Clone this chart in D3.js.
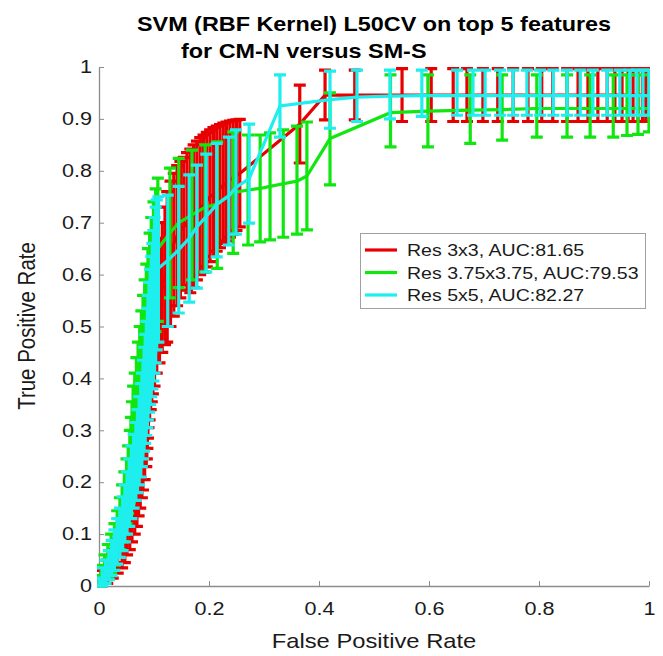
<!DOCTYPE html>
<html lang="en">
<head>
  <meta charset="UTF-8">
  <title>SVM ROC curves</title>
  <script src="https://d3js.org/d3.v7.min.js"></script>
  <style>
    body {
      margin: 0;
      background: #ffffff;
    }
    svg {
      display: block;
      font-family: "Liberation Sans", Arial, Helvetica, sans-serif;
    }
  </style>
</head>
<body>
  <svg width="663" height="656"></svg>

  <script>
    // ---- data ----
    const xTicks = [0, 0.2, 0.4, 0.6, 0.8, 1];
    const yTicks = [0, 0.1, 0.2, 0.3, 0.4, 0.5, 0.6, 0.7, 0.8, 0.9, 1];
    const seriesNames = ["Res 3x3, AUC:81.65", "Res 3.75x3.75, AUC:79.53", "Res 5x5, AUC:82.27"];

    // Res 3x3
    const redX = [0, 0.005, 0.015, 0.025, 0.034, 0.042, 0.047, 0.051, 0.056, 0.06, 0.065, 0.069, 0.072, 0.075, 0.078, 0.08, 0.083, 0.086, 0.087, 0.088, 0.089, 0.09, 0.092, 0.094, 0.096, 0.098, 0.101, 0.105, 0.11, 0.115, 0.12, 0.124,
      0.13, 0.136, 0.142, 0.148, 0.154, 0.16, 0.166, 0.172, 0.178, 0.184, 0.19, 0.196, 0.202, 0.208, 0.214, 0.22, 0.226, 0.232, 0.238, 0.244, 0.25, 0.256,
      0.365, 0.411, 0.465, 0.551, 0.604, 0.644, 0.669, 0.698, 0.725, 0.753, 0.78, 0.805, 0.825, 0.851, 0.871, 0.889, 0.907, 0.924, 0.938, 0.951, 0.962, 0.971, 0.98, 0.988, 0.994, 1];
    const redY = [0, 0.01, 0.025, 0.04, 0.055, 0.07, 0.085, 0.1, 0.115, 0.13, 0.15, 0.17, 0.19, 0.21, 0.23, 0.25, 0.275, 0.3, 0.32, 0.345, 0.37, 0.39, 0.41, 0.43, 0.45, 0.47, 0.49, 0.52, 0.55, 0.575, 0.595, 0.61,
      0.64, 0.66, 0.675, 0.685, 0.692, 0.7, 0.705, 0.712, 0.72, 0.728, 0.735, 0.742, 0.75, 0.755, 0.76, 0.766, 0.772, 0.777, 0.782, 0.787, 0.791, 0.795,
      0.89, 0.946, 0.946, 0.946, 0.946, 0.946, 0.946, 0.946, 0.946, 0.946, 0.946, 0.946, 0.946, 0.946, 0.946, 0.946, 0.946, 0.946, 0.946, 0.946, 0.946, 0.946, 0.946, 0.946, 0.946, 0.946];
    const redLo = [0, 0, 0.005, 0.015, 0.025, 0.035, 0.045, 0.06, 0.07, 0.085, 0.1, 0.115, 0.135, 0.15, 0.17, 0.185, 0.205, 0.23, 0.245, 0.265, 0.285, 0.305, 0.32, 0.34, 0.355, 0.37, 0.385, 0.41, 0.43, 0.45, 0.465, 0.47,
      0.5, 0.52, 0.54, 0.555, 0.58, 0.57, 0.565, 0.575, 0.59, 0.6, 0.605, 0.615, 0.625, 0.635, 0.645, 0.652, 0.66, 0.665, 0.672, 0.678, 0.685, 0.692,
      0.815, 0.898, 0.898, 0.895, 0.895, 0.895, 0.895, 0.895, 0.895, 0.895, 0.895, 0.895, 0.895, 0.895, 0.895, 0.895, 0.895, 0.895, 0.895, 0.895, 0.895, 0.895, 0.895, 0.895, 0.895, 0.895];
    const redHi = [0.01, 0.03, 0.05, 0.07, 0.09, 0.11, 0.13, 0.145, 0.165, 0.18, 0.205, 0.23, 0.25, 0.275, 0.295, 0.32, 0.345, 0.375, 0.4, 0.425, 0.455, 0.475, 0.5, 0.52, 0.545, 0.57, 0.595, 0.63, 0.67, 0.7, 0.73, 0.76,
      0.78, 0.795, 0.81, 0.818, 0.826, 0.835, 0.842, 0.85, 0.857, 0.864, 0.869, 0.874, 0.879, 0.883, 0.886, 0.889, 0.892, 0.894, 0.896, 0.897, 0.898, 0.899,
      0.965, 0.994, 0.994, 0.997, 0.997, 0.997, 0.997, 0.997, 0.997, 0.997, 0.997, 0.997, 0.997, 0.997, 0.997, 0.997, 0.997, 0.997, 0.997, 0.997, 0.997, 0.997, 0.997, 0.997, 0.997, 0.997];

    // Res 3.75x3.75
    const greenX = [0, 0.004, 0.01, 0.016, 0.022, 0.028, 0.033, 0.038, 0.042, 0.046, 0.05, 0.053, 0.056, 0.058, 0.06, 0.062, 0.065, 0.068, 0.071, 0.074, 0.077, 0.08, 0.083, 0.086, 0.089, 0.092, 0.095, 0.099, 0.103, 0.107,
      0.129, 0.145, 0.169, 0.193, 0.215, 0.244, 0.271, 0.293, 0.311, 0.335, 0.36, 0.378, 0.42, 0.53, 0.598, 0.675, 0.733, 0.796, 0.851, 0.893, 0.935, 0.96, 0.98, 1];
    const greenY = [0, 0.015, 0.03, 0.045, 0.06, 0.08, 0.1, 0.12, 0.14, 0.16, 0.18, 0.205, 0.23, 0.255, 0.28, 0.305, 0.33, 0.355, 0.38, 0.405, 0.43, 0.455, 0.48, 0.505, 0.53, 0.555, 0.58, 0.605, 0.63, 0.65,
      0.68, 0.7, 0.715, 0.73, 0.736, 0.758, 0.763, 0.766, 0.77, 0.775, 0.78, 0.79, 0.862, 0.912, 0.915, 0.917, 0.918, 0.92, 0.92, 0.92, 0.92, 0.92, 0.92, 0.92];
    const greenLo = [0, 0, 0.005, 0.015, 0.025, 0.04, 0.055, 0.07, 0.085, 0.1, 0.12, 0.14, 0.16, 0.185, 0.205, 0.225, 0.25, 0.27, 0.29, 0.31, 0.33, 0.35, 0.37, 0.39, 0.41, 0.43, 0.45, 0.47, 0.49, 0.51,
      0.555, 0.575, 0.59, 0.605, 0.612, 0.641, 0.657, 0.663, 0.667, 0.672, 0.678, 0.686, 0.773, 0.846, 0.846, 0.853, 0.859, 0.865, 0.865, 0.865, 0.865, 0.868, 0.87, 0.875];
    const greenHi = [0.02, 0.04, 0.06, 0.08, 0.1, 0.12, 0.145, 0.17, 0.195, 0.22, 0.245, 0.27, 0.3, 0.325, 0.355, 0.385, 0.41, 0.44, 0.47, 0.5, 0.53, 0.56, 0.59, 0.62, 0.65, 0.68, 0.71, 0.74, 0.765, 0.786,
      0.805, 0.824, 0.84, 0.85, 0.856, 0.875, 0.869, 0.869, 0.873, 0.879, 0.886, 0.894, 0.95, 0.985, 0.985, 0.985, 0.985, 0.985, 0.985, 0.985, 0.985, 0.985, 0.985, 0.985];

    // Res 5x5
    const cyanX = [0, 0.006, 0.012, 0.018, 0.023, 0.028, 0.033, 0.038, 0.043, 0.047, 0.051, 0.055, 0.059, 0.063, 0.067, 0.07, 0.073, 0.076, 0.078, 0.08, 0.082, 0.084, 0.086, 0.088, 0.089, 0.091, 0.093, 0.095, 0.097, 0.099, 0.101, 0.103, 0.105, 0.108,
      0.125, 0.145, 0.164, 0.178, 0.195, 0.214, 0.236, 0.249, 0.273, 0.329,
      0.42, 0.469, 0.529, 0.587, 0.651, 0.68, 0.702, 0.729, 0.753, 0.778, 0.802, 0.826, 0.851, 0.875, 0.898, 0.924, 0.947, 0.965, 0.978, 0.989, 1];
    const cyanY = [0, 0.012, 0.025, 0.038, 0.052, 0.068, 0.085, 0.102, 0.12, 0.14, 0.16, 0.18, 0.2, 0.22, 0.24, 0.26, 0.28, 0.3, 0.32, 0.34, 0.36, 0.38, 0.4, 0.42, 0.44, 0.46, 0.48, 0.5, 0.52, 0.54, 0.56, 0.58, 0.6, 0.612,
      0.627, 0.648, 0.67, 0.692, 0.712, 0.735, 0.752, 0.768, 0.785, 0.925,
      0.937, 0.942, 0.944, 0.945, 0.945, 0.945, 0.945, 0.945, 0.945, 0.945, 0.945, 0.945, 0.945, 0.945, 0.945, 0.945, 0.945, 0.945, 0.945, 0.945, 0.945];
    const cyanLo = [0, 0, 0.005, 0.012, 0.02, 0.03, 0.042, 0.055, 0.068, 0.085, 0.1, 0.115, 0.13, 0.15, 0.165, 0.18, 0.195, 0.21, 0.23, 0.245, 0.26, 0.275, 0.29, 0.305, 0.32, 0.335, 0.35, 0.365, 0.38, 0.395, 0.41, 0.43, 0.455, 0.47,
      0.5, 0.526, 0.547, 0.574, 0.605, 0.634, 0.657, 0.678, 0.699, 0.865,
      0.882, 0.895, 0.9, 0.905, 0.907, 0.907, 0.907, 0.907, 0.907, 0.907, 0.907, 0.907, 0.907, 0.907, 0.907, 0.907, 0.907, 0.907, 0.907, 0.907, 0.907];
    const cyanHi = [0.015, 0.035, 0.05, 0.068, 0.088, 0.108, 0.13, 0.15, 0.172, 0.195, 0.22, 0.245, 0.27, 0.292, 0.315, 0.34, 0.365, 0.39, 0.41, 0.435, 0.46, 0.485, 0.51, 0.535, 0.56, 0.585, 0.61, 0.635, 0.66, 0.685, 0.71, 0.73, 0.744, 0.75,
      0.753, 0.77, 0.792, 0.811, 0.832, 0.853, 0.865, 0.879, 0.89, 0.985,
      0.992, 0.994, 0.994, 0.994, 0.994, 0.994, 0.994, 0.994, 0.994, 0.994, 0.994, 0.994, 0.994, 0.994, 0.994, 0.994, 0.994, 0.994, 0.994, 0.994, 0.994];

    const colors = ["#e80000", "#10e610", "#1eeeee"];

    // ---- layout ----
    const svg = d3.select("svg");
    const SX = 1.2; // text in the picture is a bit wider than tall
    const x = d3.scaleLinear().domain([0, 1]).range([99, 649]);
    const y = d3.scaleLinear().domain([0, 1]).range([586, 67]);
    const axisColor = "#8c8c8c";
    const textColor = "#1a1a1a";

    svg.append("defs").append("clipPath").attr("id", "plotClip")
      .append("rect").attr("x", 97).attr("y", 65).attr("width", 553).attr("height", 524);

    // axes
    const yAxis = svg.append("g")
      .attr("transform", `translate(${x(0)},0)`)
      .call(d3.axisLeft(y).tickValues(yTicks).tickFormat(d3.format("")).tickSize(-5).tickSizeOuter(0));
    const xAxis = svg.append("g")
      .attr("transform", `translate(0,${y(0)})`)
      .call(d3.axisBottom(x).tickValues(xTicks).tickFormat(d3.format("")).tickSize(-5).tickSizeOuter(0).tickPadding(16));

    [xAxis, yAxis].forEach(ax => {
      ax.select(".domain").attr("stroke", axisColor).attr("stroke-width", 1.3);
      ax.selectAll(".tick line").attr("stroke", axisColor).attr("stroke-width", 1);
      ax.selectAll(".tick text")
        .attr("fill", textColor)
        .style("font-size", "18px");
    });
    yAxis.selectAll(".tick text")
      .attr("x", 0)
      .attr("transform", `translate(-7,0) scale(${SX},1)`);
    xAxis.selectAll(".tick text")
      .attr("transform", `scale(${SX},1)`);

    // series: red, green, cyan (cyan drawn last, on top)
    const plot = svg.append("g").attr("clip-path", "url(#plotClip)");
    const cap = 6;

    function drawSeries(xs, ys, lo, hi, color) {
      const pts = xs.map((d, i) => ({ fx: d, fy: ys[i], lo: lo[i], hi: hi[i] }));
      const g = plot.append("g")
        .attr("stroke", color)
        .attr("stroke-width", 3.2)
        .attr("fill", "none");
      g.append("path")
        .datum(pts)
        .attr("d", d3.line().x(d => x(d.fx)).y(d => y(d.fy)));
      g.selectAll("path.bar")
        .data(pts)
        .join("path")
        .attr("class", "bar")
        .attr("d", d => {
          const cx = x(d.fx), yl = y(d.lo), yh = y(d.hi);
          return `M${cx},${yl}V${yh}M${cx - cap},${yl}H${cx + cap}M${cx - cap},${yh}H${cx + cap}`;
        });
    }

    drawSeries(redX, redY, redLo, redHi, colors[0]);
    drawSeries(greenX, greenY, greenLo, greenHi, colors[1]);
    drawSeries(cyanX, cyanY, cyanLo, cyanHi, colors[2]);

    // title
    svg.append("text")
      .attr("transform", `translate(374,31) scale(${SX},1)`)
      .attr("text-anchor", "middle")
      .style("font-size", "19.5px")
      .style("font-weight", "bold")
      .attr("fill", "#000")
      .text("SVM (RBF Kernel) L50CV on top 5 features");
    svg.append("text")
      .attr("transform", `translate(181,58) scale(${SX},1)`)
      .attr("text-anchor", "start")
      .style("font-size", "19.5px")
      .style("font-weight", "bold")
      .attr("fill", "#000")
      .text("for CM-N versus SM-S");

    // axis labels
    svg.append("text")
      .attr("transform", `translate(374,648) scale(${SX},1)`)
      .attr("text-anchor", "middle")
      .style("font-size", "19.8px")
      .attr("fill", textColor)
      .text("False Positive Rate");
    svg.append("text")
      .attr("transform", `translate(35,326) rotate(-90) scale(1,${SX})`)
      .attr("text-anchor", "middle")
      .style("font-size", "20.5px")
      .attr("fill", textColor)
      .text("True Positive Rate");

    // legend
    const legend = svg.append("g");
    legend.append("rect")
      .attr("x", 360.5).attr("y", 233.5)
      .attr("width", 285).attr("height", 75)
      .attr("fill", "#fff")
      .attr("stroke", "#a0a0a0")
      .attr("stroke-width", 1);
    const rows = legend.selectAll("g.row")
      .data(seriesNames)
      .join("g")
      .attr("class", "row")
      .attr("transform", (d, i) => `translate(0,${250 + i * 22.5})`);
    rows.append("line")
      .attr("x1", 365).attr("x2", 397)
      .attr("y1", 0).attr("y2", 0)
      .attr("stroke", (d, i) => colors[i])
      .attr("stroke-width", 3.2);
    rows.append("text")
      .attr("transform", `translate(407,6) scale(${SX},1)`)
      .style("font-size", "16.3px")
      .attr("fill", textColor)
      .text(d => d);
  </script>
</body>
</html>
